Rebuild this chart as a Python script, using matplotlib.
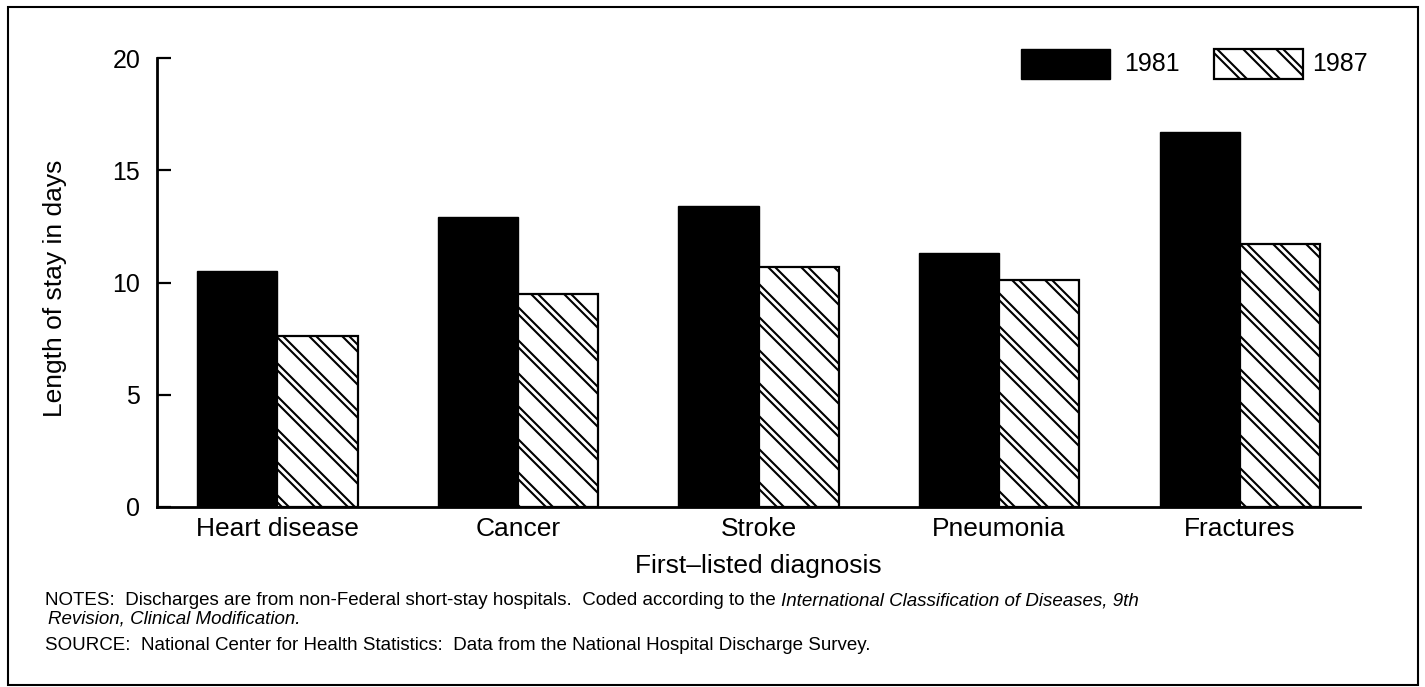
import matplotlib
matplotlib.use('Agg')
import matplotlib.pyplot as plt
import numpy as np
from matplotlib.collections import LineCollection
from matplotlib.patches import Rectangle
from matplotlib.transforms import IdentityTransform

plt.rcParams['font.family'] = ['Liberation Sans', 'DejaVu Sans']

# Average length of stay (days) by first-listed diagnosis
DIAGNOSES = ['Heart disease', 'Cancer', 'Stroke', 'Pneumonia', 'Fractures']
STAY_1981 = [10.5, 12.9, 13.4, 11.3, 16.7]
STAY_1987 = [7.6, 9.5, 10.7, 10.1, 11.7]
YEARS = ['1981', '1987']
Y_TICKS = [0, 5, 10, 15, 20]

W, H, DPI = 1425, 687, 100


def px(x, y):
    """pixel (from top-left) -> figure fraction"""
    return x / W, 1 - y / H


def double_hatch(container, patch, period=33, gap=7, lw=1.5):
    """Paired '\\' hatch lines (as in the printed figure), clipped to patch."""
    bb = patch.get_window_extent()
    x0, y0, x1, y1 = bb.x0, bb.y0, bb.x1, bb.y1
    segs = []
    for k in range(int((x0 + y0) // period) - 1, int((x1 + y1) // period) + 2):
        for c in (k * period, k * period + gap):
            segs.append([(c - y1, y1), (c - y0, y0)])
    lc = LineCollection(segs, colors='black', linewidths=lw,
                        transform=IdentityTransform())
    container.add_artist(lc)
    # set after adding: add_artist would otherwise reset the clip to the axes
    lc.set_clip_path(patch)


def main():
    fig = plt.figure(figsize=(W / DPI, H / DPI), dpi=DPI)
    ax = fig.add_axes([157 / W, 1 - 507 / H, 1203 / W, 449 / H])

    x = np.arange(len(DIAGNOSES))
    bw = 1 / 3
    ax.bar(x - bw / 2, STAY_1981, width=bw, color='black', edgecolor='black',
           linewidth=1.0)
    hatched = ax.bar(x + bw / 2, STAY_1987, width=bw, color='white',
                     edgecolor='black', linewidth=1.6, zorder=2)

    ax.set_xlim(-0.5, 4.5)
    ax.set_ylim(0, 20)
    ax.set_yticks(Y_TICKS)
    ax.set_xticks(x)
    ax.set_xticklabels(DIAGNOSES, fontsize=19)
    ax.tick_params(axis='x', length=0, pad=7.5)
    ax.tick_params(axis='y', direction='in', length=10, width=1.6,
                   labelsize=18, pad=12)
    for s in ('top', 'right'):
        ax.spines[s].set_visible(False)
    for s in ('left', 'bottom'):
        ax.spines[s].set_linewidth(2.0)
        ax.spines[s].set_zorder(4)

    ax.set_xlabel('First\u2013listed diagnosis', fontsize=19, labelpad=9)
    fig.text(*px(55, 288), 'Length of stay in days', rotation=90,
             ha='center', va='center', fontsize=19)

    for bar in hatched:
        double_hatch(ax, bar)

    # legend, drawn by hand so the key shows the same paired hatch
    r1 = Rectangle(px(1021, 79), 89 / W, 30 / H, transform=fig.transFigure,
                   facecolor='black', edgecolor='black')
    r2 = Rectangle(px(1214, 79), 89 / W, 30 / H, transform=fig.transFigure,
                   facecolor='white', edgecolor='black', linewidth=1.6)
    fig.add_artist(r1)
    fig.add_artist(r2)
    double_hatch(fig, r2)
    fig.text(*px(1124, 64), YEARS[0], fontsize=18, va='center')
    fig.text(*px(1312, 64), YEARS[1], fontsize=18, va='center')

    # notes / source
    fs = 13.5
    t1 = fig.text(*px(45, 605), 'NOTES:  Discharges are from non-Federal '
                  'short-stay hospitals.  Coded according to the ',
                  fontsize=fs, va='baseline')
    ax.annotate('International Classification of Diseases, 9th',
                xy=(1, 0), xycoords=t1, va='bottom', ha='left',
                fontsize=fs, style='italic', annotation_clip=False)
    fig.text(*px(48, 624), 'Revision, Clinical Modification.',
             fontsize=fs, style='italic', va='baseline')
    fig.text(*px(45, 650), 'SOURCE:  National Center for Health Statistics:  '
             'Data from the National Hospital Discharge Survey.',
             fontsize=fs, va='baseline')

    # outer frame
    fig.add_artist(Rectangle(px(8, 685), 1410 / W, 678 / H,
                             transform=fig.transFigure, fill=False,
                             edgecolor='black', linewidth=1.5))

    fig.savefig('out.png', dpi=DPI)


if __name__ == '__main__':
    main()
